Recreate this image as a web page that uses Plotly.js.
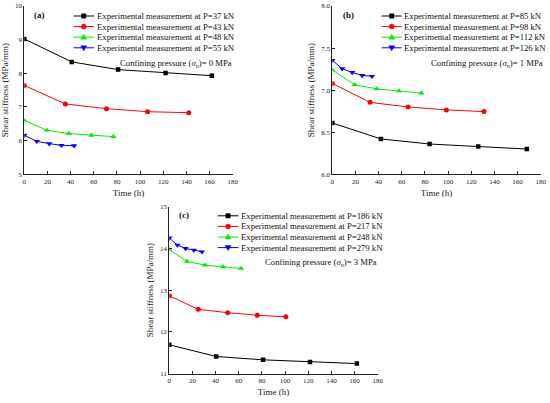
<!DOCTYPE html>
<html>
<head>
<meta charset="utf-8">
<script src="https://cdn.plot.ly/plotly-3.0.1.min.js"></script>
<style>html,body{margin:0;padding:0;background:#fff;}#chart{width:550px;height:403px;}</style>
</head>
<body>
<div id="chart"></div>
<script>
// ---------- data ----------
// Panel (a): confining pressure 0 MPa
var a_t_37 = [0, 41, 81, 122, 162];
var a_k_37 = [9.02, 8.34, 8.11, 8.01, 7.93];
var a_t_43 = [0, 35.5, 71, 106.5, 142];
var a_k_43 = [7.64, 7.09, 6.95, 6.86, 6.83];
var a_t_48 = [0, 19.5, 38.5, 58, 77];
var a_k_48 = [6.60, 6.31, 6.21, 6.16, 6.12];
var a_t_55 = [0, 10.7, 21.5, 32, 43];
var a_k_55 = [6.16, 5.98, 5.91, 5.86, 5.85];
// Panel (b): confining pressure 1 MPa
var b_t_85 = [0, 42, 84, 126, 168];
var b_k_85 = [6.61, 6.42, 6.36, 6.33, 6.30];
var b_t_98 = [0, 32.6, 65.5, 98.5, 131];
var b_k_98 = [7.08, 6.855, 6.80, 6.765, 6.745];
var b_t_112 = [0, 19.2, 38.5, 57.6, 77];
var b_k_112 = [7.24, 7.065, 7.015, 6.99, 6.965];
var b_t_126 = [0, 8.5, 17.2, 25.7, 34.3];
var b_k_126 = [7.355, 7.255, 7.21, 7.175, 7.165];
// Panel (c): confining pressure 3 MPa
var c_t_186 = [0, 40.5, 81, 121.5, 162];
var c_k_186 = [11.69, 11.41, 11.33, 11.28, 11.24];
var c_t_217 = [0, 25, 50.5, 76, 100.7];
var c_k_217 = [12.865, 12.54, 12.46, 12.40, 12.36];
var c_t_248 = [0, 15.3, 30.8, 46.3, 62];
var c_k_248 = [13.97, 13.69, 13.60, 13.56, 13.52];
var c_t_279 = [0, 7, 14, 21.2, 28.2];
var c_k_279 = [14.25, 14.08, 14.00, 13.96, 13.92];

var loads_a = [37, 43, 48, 55];
var loads_b = [85, 98, 112, 126];
var loads_c = [186, 217, 248, 279];
var pressures = [0, 1, 3];
var panelLabels = ['(a)', '(b)', '(c)'];
var xTicks = [0, 20, 40, 60, 80, 100, 120, 140, 160, 180];

// ---------- styles ----------
var colors = ['#000000', '#ff0000', '#00ee00', '#0000ff'];
var symbols = ['square', 'circle', 'triangle-up', 'triangle-down'];
var msizes = [4.5, 5, 5.5, 5.5];
var FONT = 'Liberation Serif, Times New Roman, serif';
var W = 550, H = 403;
function px(x) { return x / W; }
function py(y) { return 1 - y / H; }

var series = [
  [[a_t_37, a_k_37], [a_t_43, a_k_43], [a_t_48, a_k_48], [a_t_55, a_k_55]],
  [[b_t_85, b_k_85], [b_t_98, b_k_98], [b_t_112, b_k_112], [b_t_126, b_k_126]],
  [[c_t_186, c_k_186], [c_t_217, c_k_217], [c_t_248, c_k_248], [c_t_279, c_k_279]]
];
var loads = [loads_a, loads_b, loads_c];
var axSuffix = ['', '2', '3'];

var traces = [];
series.forEach(function (panel, p) {
  panel.forEach(function (s, i) {
    traces.push({
      x: s[0], y: s[1], type: 'scatter', mode: 'lines+markers',
      xaxis: 'x' + axSuffix[p], yaxis: 'y' + axSuffix[p],
      name: 'Experimental measurement at P=' + loads[p][i] + ' kN',
      line: { color: colors[i], width: 1 },
      marker: { color: colors[i], symbol: symbols[i], size: msizes[i] },
      showlegend: false, hoverinfo: 'x+y'
    });
  });
});

// ---------- axes ----------
function xAxis(d0, d1, anchor) {
  return {
    domain: [px(d0), px(d1)], range: [0, 180], anchor: anchor,
    tickvals: xTicks, ticks: 'inside', ticklen: 3, tickwidth: 1, tickcolor: '#222',
    showline: true, linecolor: '#222', linewidth: 1, mirror: false,
    showgrid: false, zeroline: false,
    tickfont: { family: FONT, size: 7, color: '#222' },
    title: { text: 'Time (h)', font: { family: FONT, size: 9, color: '#222' }, standoff: 4 },
    automargin: false
  };
}
function yAxis(t0, t1, range, dtick, fmt, anchor) {
  return {
    domain: [py(t1), py(t0)], range: range, dtick: dtick, tick0: range[0], tickformat: fmt, anchor: anchor,
    ticks: 'inside', ticklen: 3, tickwidth: 1, tickcolor: '#222',
    showline: true, linecolor: '#222', linewidth: 1, mirror: false,
    showgrid: false, zeroline: false,
    tickfont: { family: FONT, size: 7, color: '#222' },
    title: { text: 'Shear stiffness (MPa/mm)', font: { family: FONT, size: 9, color: '#222' }, standoff: 4 },
    automargin: false
  };
}

// panel boxes in pixels: [xLeft, xRight, yTop, yBottom]
var boxes = [[24.3, 232.7, 6, 174.3], [332.3, 540.7, 6, 174.3], [169.3, 377.7, 206.7, 373.6]];

var layout = {
  width: W, height: H, margin: { l: 0, r: 0, t: 0, b: 0 },
  paper_bgcolor: '#ffffff', plot_bgcolor: 'rgba(0,0,0,0)',
  font: { family: FONT, color: '#222' },
  showlegend: false,
  xaxis: xAxis(boxes[0][0], boxes[0][1], 'y'),
  yaxis: yAxis(boxes[0][2], boxes[0][3], [5, 10], 1, 'd', 'x'),
  xaxis2: xAxis(boxes[1][0], boxes[1][1], 'y2'),
  yaxis2: yAxis(boxes[1][2], boxes[1][3], [6, 8], 0.5, '.1f', 'x2'),
  xaxis3: xAxis(boxes[2][0], boxes[2][1], 'y3'),
  yaxis3: yAxis(boxes[2][2], boxes[2][3], [11, 15], 1, 'd', 'x3'),
  shapes: [], annotations: []
};

// ---------- legends (drawn as decoration) ----------
// [line start x, line end x, first row y] in pixels
var legendPos = [[73.5, 94, 16], [381.7, 401.7, 16], [217.7, 238.5, 215.8]];
var rowGap = 10.6;
legendPos.forEach(function (lp, p) {
  for (var i = 0; i < 4; i++) {
    var yy = lp[2] + i * rowGap;
    layout.shapes.push({ type: 'line', xref: 'paper', yref: 'paper',
      x0: px(lp[0]), x1: px(lp[1]), y0: py(yy), y1: py(yy),
      line: { color: colors[i], width: 1 } });
    var cx = px((lp[0] + lp[1]) / 2), cy = py(yy);
    var shp = { xref: 'paper', yref: 'paper', xsizemode: 'pixel', ysizemode: 'pixel',
      xanchor: cx, yanchor: cy, fillcolor: colors[i], line: { color: colors[i], width: 0.5 } };
    if (i === 0) { shp.type = 'rect'; shp.x0 = -2.2; shp.x1 = 2.2; shp.y0 = -2.2; shp.y1 = 2.2; }
    else if (i === 1) { shp.type = 'circle'; shp.x0 = -2.5; shp.x1 = 2.5; shp.y0 = -2.5; shp.y1 = 2.5; }
    else if (i === 2) { shp.type = 'path'; shp.path = 'M-3,-2 L3,-2 L0,3 Z'; }
    else { shp.type = 'path'; shp.path = 'M-3,2 L3,2 L0,-3 Z'; }
    layout.shapes.push(shp);
    layout.annotations.push({ xref: 'paper', yref: 'paper', x: px(lp[1] + 0.5), y: py(yy),
      xanchor: 'left', yanchor: 'middle', showarrow: false,
      text: 'Experimental measurement at P=' + loads[p][i] + ' kN',
      font: { family: FONT, size: 8.7, color: '#111' } });
  }
});

// confining pressure notes [right x, y]
var notePos = [[234, 63], [545, 63.3], [379, 262.5]];
notePos.forEach(function (np, p) {
  layout.annotations.push({ xref: 'paper', yref: 'paper', x: px(np[0]), y: py(np[1]),
    xanchor: 'right', yanchor: 'middle', showarrow: false,
    text: 'Confining pressure (<i>σ</i><sub><i>n</i></sub>)= ' + pressures[p] + ' MPa',
    font: { family: FONT, size: 8.7, color: '#111' } });
});

// panel labels [left x, y]
var labelPos = [[32, 15], [340.5, 15], [177, 214.5]];
labelPos.forEach(function (lp, p) {
  layout.annotations.push({ xref: 'paper', yref: 'paper', x: px(lp[0]), y: py(lp[1]),
    xanchor: 'left', yanchor: 'middle', showarrow: false,
    text: '<b>' + panelLabels[p] + '</b>', font: { family: FONT, size: 9, color: '#111' } });
});

Plotly.newPlot('chart', traces, layout, { displayModeBar: false, staticPlot: true });
</script>
</body>
</html>
